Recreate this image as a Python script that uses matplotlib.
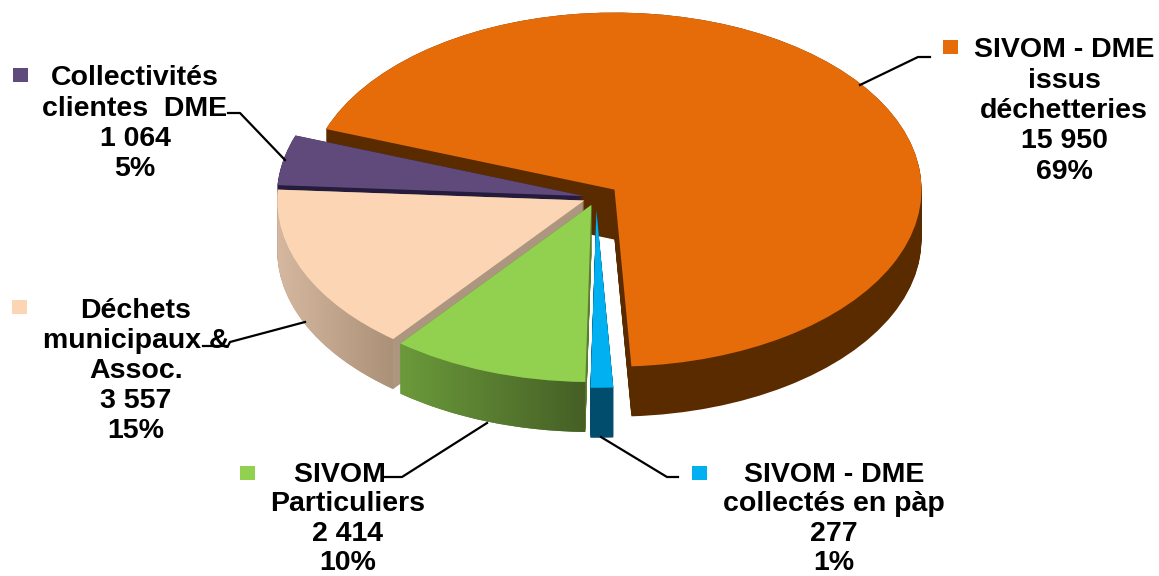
"""Exploded 3D-look pie of tonnages, SIVOM / DME."""
import matplotlib
matplotlib.use('Agg')
import matplotlib.pyplot as plt
import numpy as np
from matplotlib.colors import LinearSegmentedColormap
from matplotlib.lines import Line2D
from matplotlib.patches import Polygon, Rectangle, Wedge

plt.rcParams['font.family'] = ['Liberation Sans', 'DejaVu Sans']

# data, clockwise from the big slice
names = [
    ['SIVOM - DME', 'issus', 'déchetteries'],
    ['SIVOM - DME', 'collectés en pàp'],
    ['SIVOM  ', 'Particuliers'],
    ['Déchets', 'municipaux &', 'Assoc.'],
    ['Collectivités', 'clientes  DME'],
]
values = [15950, 277, 2414, 3557, 1064]
value_labels = ['15 950', '277', '2 414', '3 557', '1 064']
percent_labels = ['69%', '1%', '10%', '15%', '5%']

top_colors = ['#E66C0A', '#00B0F0', '#92D050', '#FCD5B5', '#604A7B']
side_colors = ['#5B2B00', '#004D6E', '#5A7D32', '#AD9680', '#241B3D']
explode = [0.075, 0.075, 0.045, 0.042, 0.04]
gradients = {2: ('#6B9A3B', '#455F25'), 3: ('#D6B8A0', '#AB9178')}

W, H = 1159, 576
CX, CY = 596, 197.5   # pie centre in pixels
RX, RY = 307, 177     # ellipse radii in pixels
DEPTH = 50 / RY

fig = plt.figure(figsize=(W / 100, H / 100), dpi=100)
ax = fig.add_axes([0, 0, 1, 1])
wedges, _ = ax.pie(values, explode=explode, colors=top_colors, startangle=160,
                   counterclock=False, radius=1, wedgeprops={'linewidth': 0})

# back to front: big slice, then round the left side to the blue one
draw_order = [0, 4, 3, 2, 1]
for pos, i in enumerate(draw_order):
    w = wedges[i]
    base = 10 * (pos + 1)
    w.set_zorder(base + 5)
    cx, cy = w.center
    for d in np.linspace(DEPTH, 0, 51):
        ax.add_patch(Wedge((cx, cy - d), w.r, w.theta1, w.theta2,
                           fc=side_colors[i], lw=0, zorder=base))
    if i in gradients:
        # only the front part of the rim gets the shading
        th = np.radians(np.linspace(w.theta1, w.theta2, 200))
        th = th[np.sin(th) < 0]
        xs = cx + w.r * np.cos(th)
        ys = cy + w.r * np.sin(th)
        pts = np.vstack([np.column_stack([xs, ys]),
                         np.column_stack([xs, ys - DEPTH])[::-1]])
        poly = Polygon(pts, closed=True, transform=ax.transData)
        cmap = LinearSegmentedColormap.from_list('rim', gradients[i])
        im = ax.imshow(np.linspace(0, 1, 256).reshape(1, -1), cmap=cmap, aspect='auto',
                       extent=(xs.min(), xs.max(), ys.min() - DEPTH, ys.max()),
                       zorder=base + 1)
        im.set_clip_path(poly)

ax.set_aspect('auto')
ax.set_xlim(-CX / RX, (W - CX) / RX)
ax.set_ylim((CY - H) / RY, CY / RY)
ax.axis('off')


def fx(px):
    return px / W


def fy(py):
    return 1 - py / H


# label layout in pixels: centre x, first baseline, line pitch
label_pos = [(1064, 57, 30.5), (834, 482, 29.3), (348, 482, 29.3), (136, 318, 30), (135, 85, 30.5)]
marker_pos = [(943, 40), (692, 466), (240, 466), (12, 300), (13, 68)]
leaders = [
    [(860, 85), (918, 57), (930, 57)],
    [(601, 437), (667, 477), (678, 477)],
    [(487, 423), (402, 477), (385, 477)],
    [(305, 322), (230, 342), (228, 346), (203, 346)],
    [(285, 160), (240, 113), (228, 113)],
]

for i in range(len(values)):
    cx, y0, pitch = label_pos[i]
    lines = names[i] + [value_labels[i], percent_labels[i]]
    for k, line in enumerate(lines):
        fig.text(fx(cx), fy(y0 + k * pitch), line, ha='center', va='baseline',
                 fontsize=20.5, fontweight='bold', color='black')
    mx, my = marker_pos[i]
    fig.add_artist(Rectangle((fx(mx), fy(my + 14)), 15 / W, 14 / H, fc=top_colors[i], lw=0,
                             transform=fig.transFigure))
    pts = leaders[i]
    fig.add_artist(Line2D([fx(p[0]) for p in pts], [fy(p[1]) for p in pts],
                          color='black', lw=1.6, transform=fig.transFigure))

fig.savefig('out.png', dpi=100)
